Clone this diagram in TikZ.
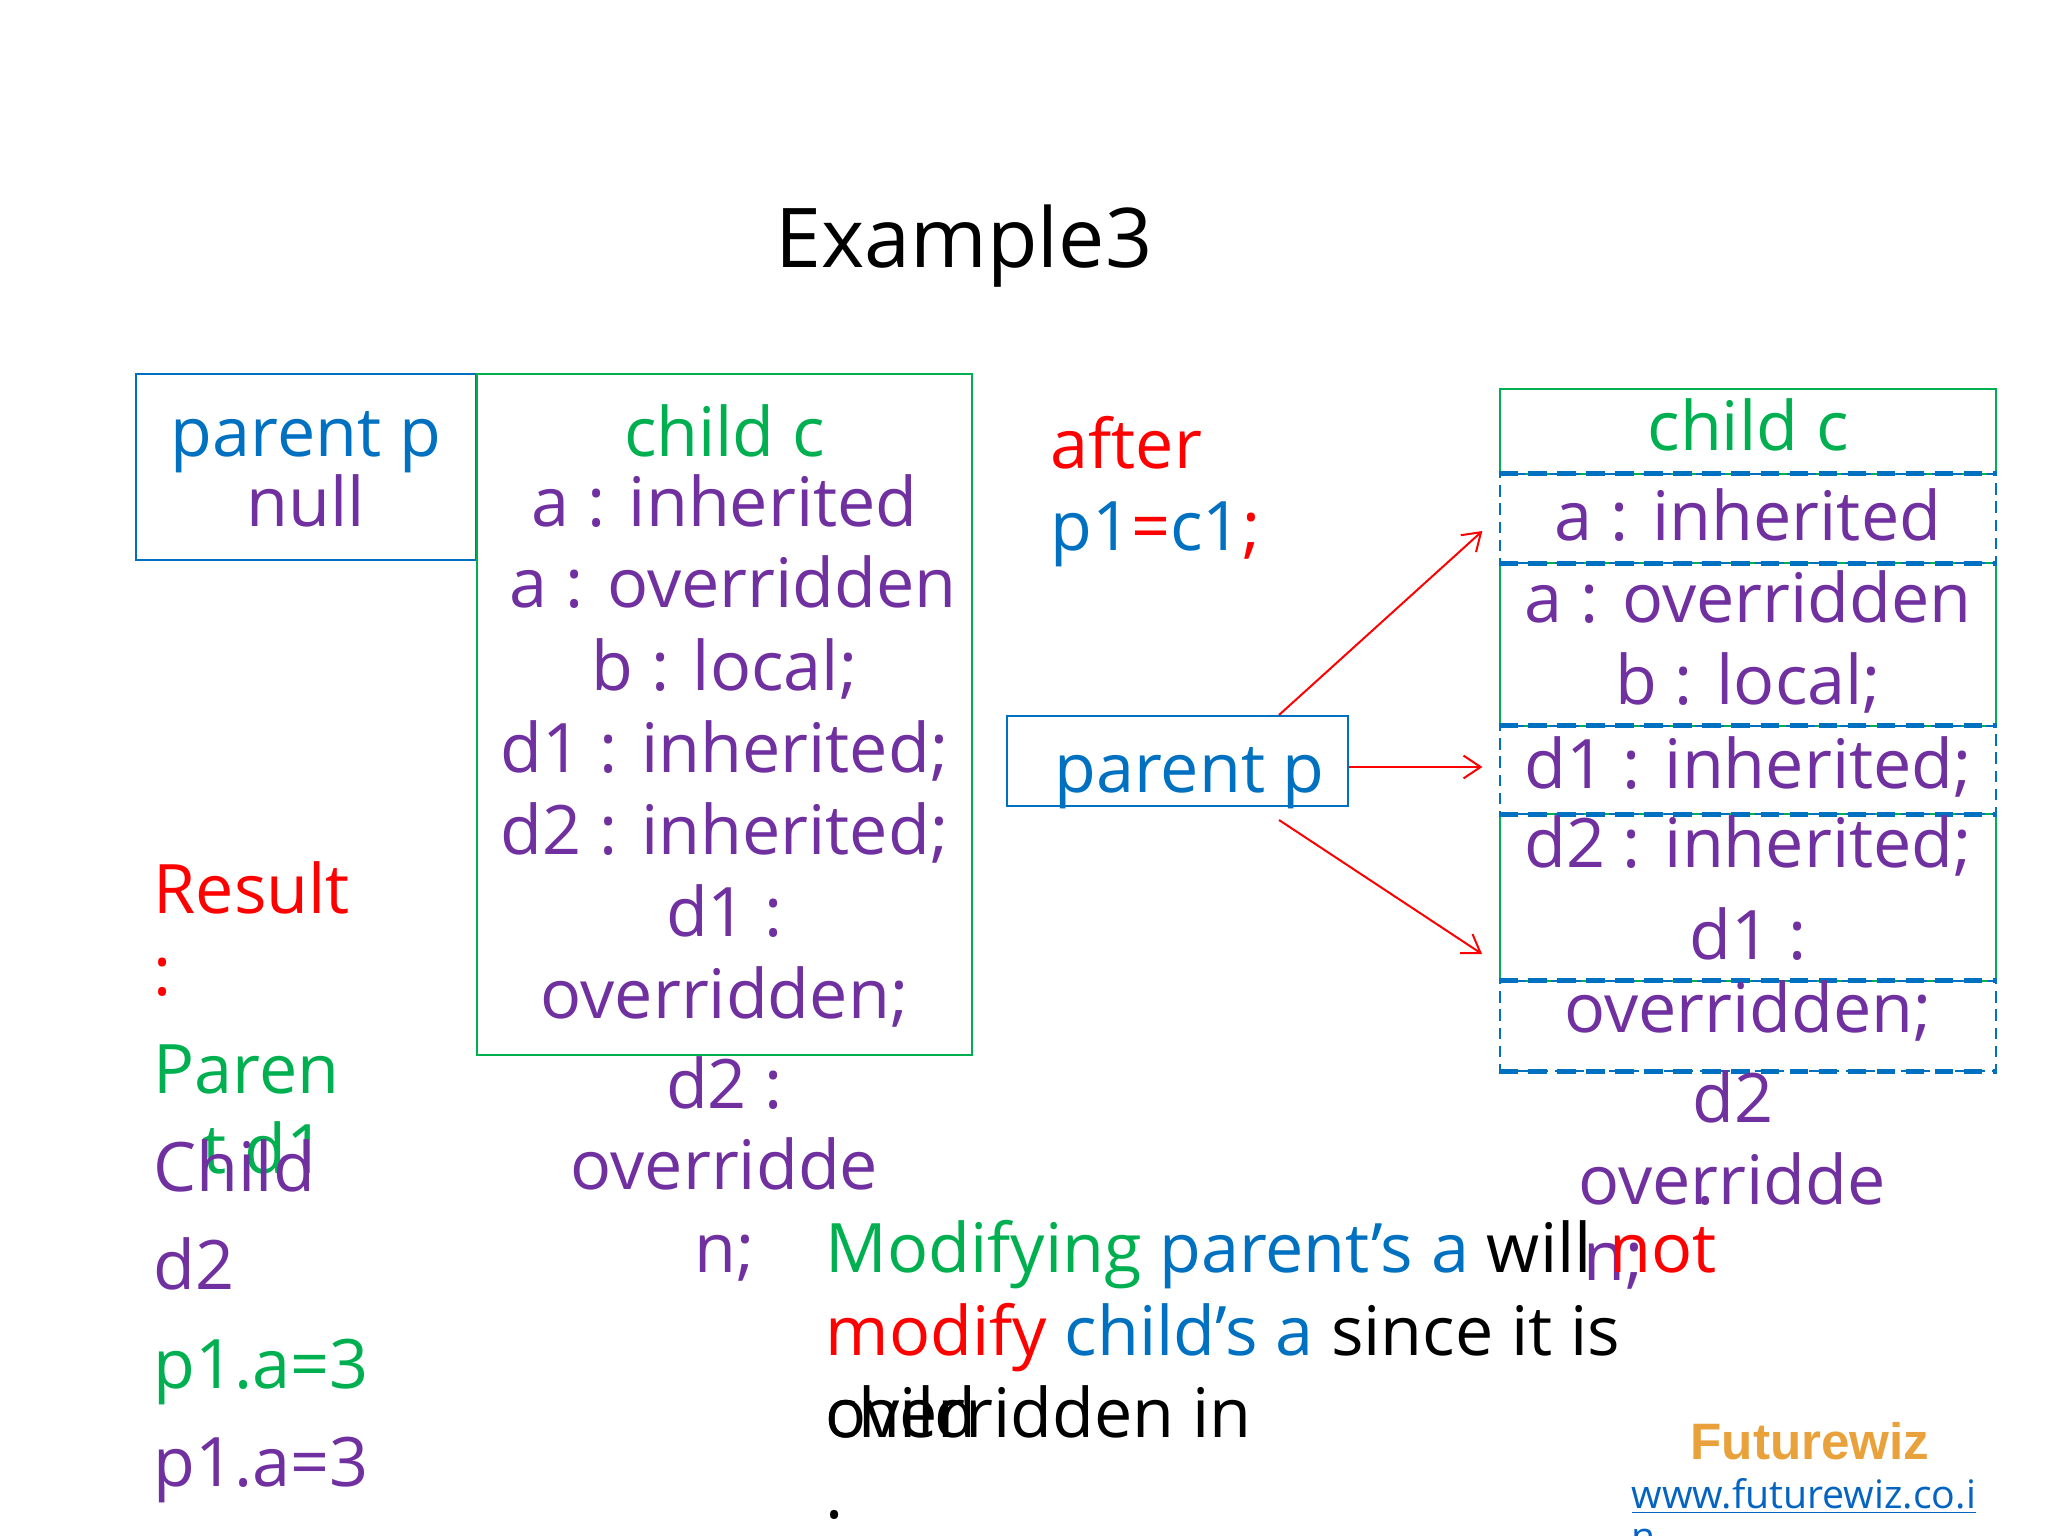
\documentclass[tikz,border=0pt]{standalone}
\usepackage{fontspec}
\setmainfont{Open Sans}
\newfontfamily\wizfont{Liberation Sans}
\usetikzlibrary{calc,arrows.meta}

\definecolor{pblue}{HTML}{0070C0}
\definecolor{cgreen}{HTML}{00B050}
\definecolor{vpurple}{HTML}{7030A0}
\definecolor{wizorange}{HTML}{E9A23B}
\definecolor{linkblue}{HTML}{0563C1}
\newcommand\pxu{0.3515625pt}

\tikzset{
  txt/.style={font=\fontsize{24}{28.8}\selectfont, inner sep=0pt, anchor=base},
  ltxt/.style={txt, anchor=base west},
  box/.style={draw=#1, line width=0.7pt, inner sep=0pt},
  cell/.style={draw=pblue, line width=0.45pt, dash pattern=on 4pt off 2.4pt,
    inner sep=0pt, minimum width=496*\pxu, minimum height=#1*\pxu},
  gcell/.style={box=cgreen, minimum width=496*\pxu, minimum height=#1*\pxu},
  thickdash/.style={draw=pblue, line width=1.9pt, dash pattern=on 6.6pt off 3.6pt},
  link/.style={red, line width=0.7pt, ->}
}

\begin{document}
\begin{tikzpicture}[x=0.3515625pt, y=-0.3515625pt, >={Straight Barb[length=6pt,width=8pt]}]
\useasboundingbox (0,0) rectangle (2048,1536);

\node[txt, font=\fontsize{29}{35}\selectfont] (title) at (964,268) {Example3};

% before: parent p and child c
\node[box=pblue, minimum width=340*\pxu, minimum height=186*\pxu] (pbox) at (306,467) {};
\node[box=cgreen, minimum width=495*\pxu, minimum height=681*\pxu] (cbox) at (724.5,714.5) {};
\node[txt, pblue] (pname) at (306,457) {parent p};
\node[txt, vpurple] (pnull) at (306,527) {null};
\node[txt, cgreen] (cname) at (724.5,457) {child c};
\foreach \n/\y/\t in {1/527/a : inherited, 2/608/\ a : overridden, 3/690/b : local;,
    4/772/d1 : inherited;, 5/854/d2 : inherited;, 6/936/d1 :, 7/1018/overridden;,
    8/1108/d2 :, 9/1189/overridde, 10/1272/n;}
{
    \node[txt, vpurple] (cl\n) at (724.5,\y) {\t};
}

% result
\node[ltxt, red] (res) at (153,913) {Result};
\node[ltxt, red] (rescol) at (153,995) {:};
\node[ltxt, cgreen] (rpar) at (153,1093) {Paren};
\node[ltxt, cgreen] (rpard) at (202,1173) {t d1};
\node[ltxt, vpurple] (rchild) at (153,1191) {Child};
\node[ltxt, vpurple] (rchd) at (153,1289) {d2};
\node[ltxt, cgreen] (rp1) at (153,1388) {p1.a=3};
\node[ltxt, vpurple] (rp2) at (153,1486) {p1.a=3};

% after
\node[ltxt, red] (after) at (1050,469) {after};
\node[ltxt, pblue] (assign) at (1050,551) {p1\textcolor{red}{=}c1\textcolor{red}{;}};
\node[box=pblue, minimum width=341*\pxu, minimum height=90*\pxu] (pmid) at (1177.5,761) {};
\node[ltxt, pblue] (pmidname) at (1054,792) {parent p};

\node[gcell=85] (cC) at (1748,431.5) {};
\node[gcell=163] (cB) at (1748,644.5) {};
\node[gcell=167] (cD2) at (1748,897.5) {};
\node[cell=89] (cA) at (1748,518.5) {};
\node[cell=88] (cD1) at (1748,770) {};
\node[cell=90] (cO) at (1748,1026) {};
\foreach \c in {cA,cD1,cO}
{
    \draw[thickdash] (\c.north west) -- (\c.north east);
    \draw[thickdash] (\c.south west) -- (\c.south east);
}

\node[txt, cgreen] (rname) at (1748,451) {child c};
\foreach \n/\y/\t in {1/541/a : inherited, 2/623/a : overridden, 3/704/b : local;,
    4/788/d1 : inherited;, 5/867/d2 : inherited;, 6/959/d1 :, 7/1032/overridden;}
{
    \node[txt, vpurple] (rl\n) at (1748,\y) {\t};
}
\node[txt, vpurple] (rl8) at (1733,1122) {d2};
\node[txt, vpurple] (rl9) at (1732,1204) {overridde};
\node[ltxt, vpurple] (rldot) at (1696,1204) {.};
\node[ltxt, vpurple] (rl10) at (1583,1280) {n;};

\draw[link] ($(pmid.north)+(101.5,0)$) -- ($(cA.west)+(-17,12.5)$);
\draw[link] ($(pmid.east)+(0,6)$) -- ($(cD1.west)+(-17,-3)$);
\draw[link] ($(pmid.south)+(101.5,13)$) -- ($(cD2.west)+(-17,56.5)$);

% note
\node[ltxt] (note1) at (825,1272) {\textcolor{cgreen}{Modifying} \textcolor{pblue}{parent’s a} will \textcolor{red}{not}};
\node[ltxt] (note2) at (825,1355) {\textcolor{red}{modify} \textcolor{pblue}{child’s a} since it is};
\node[ltxt] (note3) at (825,1437) {overridden in};
\node[ltxt] (note3b) at (825,1437) {child};
\node[ltxt] (note4) at (825,1518) {.};

\node[txt, wizorange, font=\wizfont\bfseries\fontsize{18}{21.6}\selectfont] (wiz) at (1810,1459) {Futurewiz};
\node[ltxt, linkblue, font=\fontsize{13.8}{16.6}\selectfont] (url) at (1631,1508) {\underline{www.futurewiz.co.i}};
\node[ltxt, linkblue, font=\fontsize{13.8}{16.6}\selectfont] (urln) at (1631,1550) {\underline{n}};
\end{tikzpicture}
\end{document}
